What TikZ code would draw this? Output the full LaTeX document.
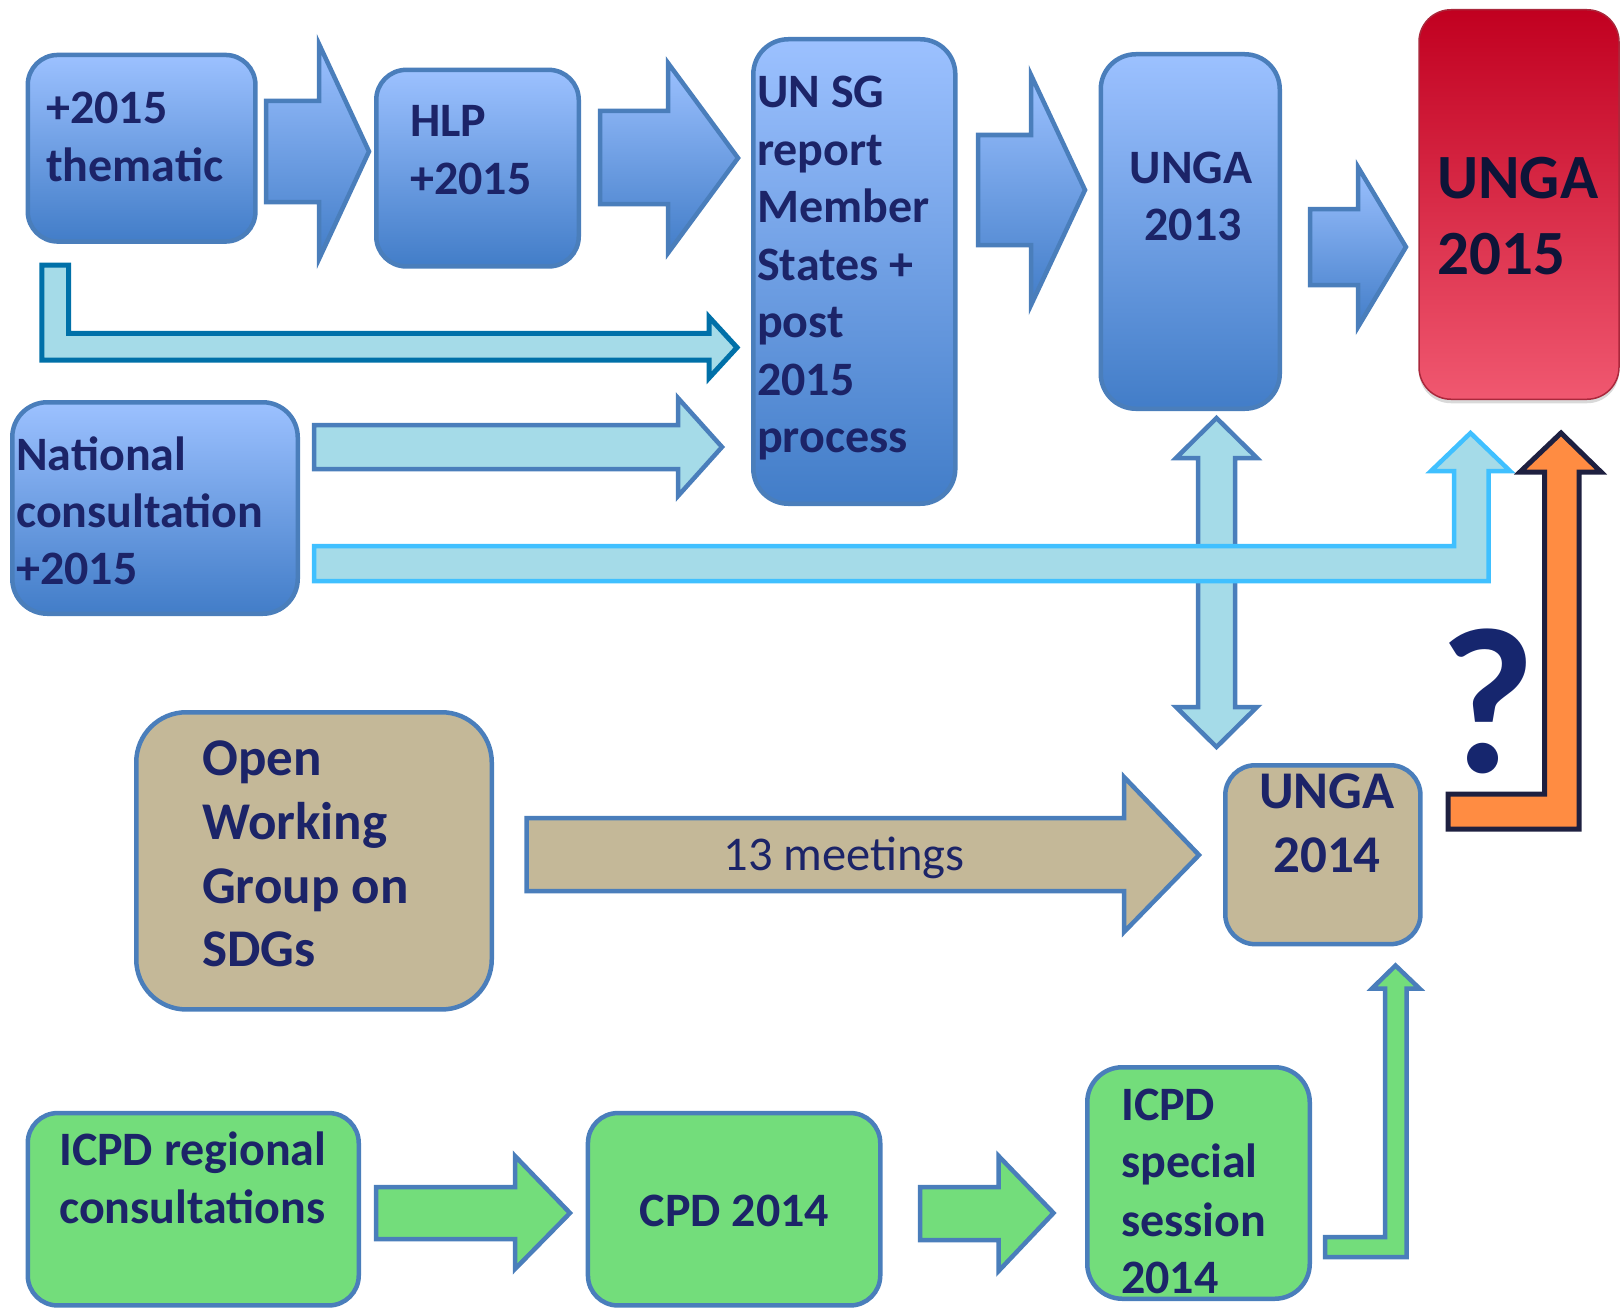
\documentclass[tikz,border=0pt]{standalone}
\usepackage{fontspec}
\setmainfont{Carlito}
\usetikzlibrary{shadows}
\definecolor{bluebd}{RGB}{74,126,187}
\definecolor{boxtop}{RGB}{156,193,255}
\definecolor{boxbot}{RGB}{66,125,200}
\definecolor{cyanfill}{RGB}{165,219,232}
\definecolor{tealbd}{RGB}{0,112,168}
\definecolor{brightbd}{RGB}{64,192,255}
\definecolor{tanfill}{RGB}{196,184,152}
\definecolor{greenfill}{RGB}{115,221,123}
\definecolor{orangefill}{RGB}{255,140,66}
\definecolor{darkbd}{RGB}{30,32,64}
\definecolor{navy}{RGB}{28,36,104}
\definecolor{darknavy}{RGB}{14,20,56}
\definecolor{redtop}{RGB}{193,0,32}
\definecolor{redbot}{RGB}{240,88,112}
\definecolor{redbd}{RGB}{170,40,60}
\begin{document}
\begin{tikzpicture}[x=1pt,y=-1pt,
  box/.style={rectangle, rounded corners=30pt, draw=bluebd, line width=4.5pt, inner sep=0pt},
  bluebox/.style={box, top color=boxtop, bottom color=boxbot},
  tanbox/.style={box, fill=tanfill},
  greenbox/.style={box, fill=greenfill},
  txt/.style={anchor=base west, inner sep=0pt, text=navy, font=\fontsize{48}{57}\selectfont\bfseries},
  ctxt/.style={txt, anchor=base},
  bigtxt/.style={txt, font=\fontsize{53}{63}\selectfont\bfseries},
  blockarrow/.style={draw=bluebd, line width=4.5pt, line join=miter, top color=boxtop, bottom color=boxbot},
  cyanarrow/.style={draw=bluebd, line width=4.5pt, line join=miter, fill=cyanfill},
]
\useasboundingbox (0,0) rectangle (1624,1311);

% ---------- boxes ----------
\node[bluebox, minimum width=227.7pt, minimum height=186.6pt] (thematic) at (141.6,148.25) {};
\node[bluebox, minimum width=202.5pt, minimum height=196.6pt] (hlp) at (477.5,168.15) {};
\node[bluebox, rounded corners=35pt, minimum width=202pt, minimum height=464.5pt] (unsg) at (854.3,271.5) {};
\node[bluebox, rounded corners=35pt, minimum width=179pt, minimum height=354.5pt] (unga13) at (1190.25,231.5) {};
\node[rectangle, rounded corners=32pt, draw=redbd, line width=1.5pt, top color=redtop, bottom color=redbot,
      drop shadow={shadow xshift=0pt, shadow yshift=-4pt, opacity=0.3},
      minimum width=200pt, minimum height=389.5pt] (unga15) at (1519,204.5) {};
\node[bluebox, rounded corners=35pt, minimum width=285.5pt, minimum height=211.5pt] (national) at (155,508) {};
\node[tanbox, rounded corners=50pt, minimum width=355.5pt, minimum height=297.2pt] (owg) at (314,860.85) {};
\node[tanbox, minimum width=195.2pt, minimum height=178.9pt] (unga14) at (1322.85,854.7) {};
\node[greenbox, minimum width=331pt, minimum height=192.4pt] (icpdreg) at (193.25,1209.25) {};
\node[greenbox, minimum width=292.3pt, minimum height=192.4pt] (cpd) at (734.1,1209.25) {};
\node[greenbox, rounded corners=35pt, minimum width=222.5pt, minimum height=231.5pt] (icpdss) at (1198.5,1183) {};

% ---------- block arrows (top row) ----------
\draw[blockarrow] (266,101) -- (319,101) -- (319,44) -- (369,151.5) -- (319,259) -- (319,202) -- (266,202) -- cycle;
\draw[blockarrow] (600,111) -- (668,111) -- (668,63) -- (738,158) -- (668,253) -- (668,204) -- (600,204) -- cycle;
\draw[blockarrow] (978,135) -- (1031,135) -- (1031,75) -- (1085,190) -- (1031,305) -- (1031,245) -- (978,245) -- cycle;
\draw[blockarrow] (1310,209) -- (1358,209) -- (1358,167) -- (1406,247) -- (1358,327) -- (1358,285) -- (1310,285) -- cycle;

% ---------- L arrow thematic -> UN SG ----------
\draw[draw=tealbd, line width=5pt, line join=miter, fill=cyanfill]
  (41.8,265) -- (68.5,265) -- (68.5,333.3) -- (709,333.3) -- (709,317) -- (737,347.5) -- (709,378) -- (709,360) -- (41.8,360) -- cycle;

% ---------- National -> UN SG ----------
\draw[cyanarrow] (314,425) -- (678,425) -- (678,398) -- (722,447) -- (678,496) -- (678,469) -- (314,469) -- cycle;

% ---------- double arrow UNGA 2013 <-> UNGA 2014 ----------
\draw[cyanarrow] (1216.5,418) -- (1257,458) -- (1235,458) -- (1235,707) -- (1257,707) -- (1216.5,747)
  -- (1176,707) -- (1198,707) -- (1198,458) -- (1176,458) -- cycle;

% ---------- long L arrow National -> UNGA 2015 ----------
\draw[draw=brightbd, line width=4.5pt, line join=miter, fill=cyanfill]
  (314,546) -- (1454,546) -- (1454,471) -- (1431,471) -- (1470.5,433) -- (1510,471) -- (1488.5,471) -- (1488.5,581) -- (314,581) -- cycle;

% ---------- orange L arrow UNGA 2014 -> UNGA 2015 ----------
\draw[draw=darkbd, line width=5pt, line join=miter, fill=orangefill]
  (1448,794) -- (1544.5,794) -- (1544.5,472) -- (1520,472) -- (1561,433) -- (1601,472) -- (1579,472) -- (1579,829) -- (1448,829) -- cycle;

% ---------- tan arrow OWG -> UNGA 2014 ----------
\draw[draw=bluebd, line width=4.5pt, line join=miter, fill=tanfill]
  (526.5,818) -- (1124,818) -- (1124,777) -- (1199,855) -- (1124,932) -- (1124,891) -- (526.5,891) -- cycle;

% ---------- green arrows ----------
\draw[draw=bluebd, line width=4.5pt, line join=miter, fill=greenfill]
  (376,1187) -- (515,1187) -- (515,1156) -- (570,1213) -- (515,1269) -- (515,1239) -- (376,1239) -- cycle;
\draw[draw=bluebd, line width=4.5pt, line join=miter, fill=greenfill]
  (920,1187) -- (998.6,1187) -- (998.6,1156) -- (1053.5,1213) -- (998.6,1271) -- (998.6,1240) -- (920,1240) -- cycle;
\draw[draw=bluebd, line width=4.5pt, line join=miter, fill=greenfill]
  (1325,1237) -- (1385,1237) -- (1385,988.5) -- (1372,988.5) -- (1395.5,965.5) -- (1419.5,988.5) -- (1406.5,988.5) -- (1406.5,1257) -- (1325,1257) -- cycle;

% ---------- texts ----------
\node[txt] (th1) at (46,123.5) {+2015};
\node[txt] (th2) at (46,181) {thematic};

\node[txt] (hlp1) at (410,136.8) {HLP};
\node[txt] (hlp2) at (410,194) {+2015};

\foreach \t [count=\i from 0] in {UN SG, report, Member, States +, post, 2015, process}
  \node[txt] (sg\i) at (757,{108+57.4*\i}) {\t};

\node[ctxt] (u13a) at (1191,183) {UNGA};
\node[ctxt] (u13b) at (1193,240.5) {2013};

\node[txt, text=darknavy, font=\fontsize{63}{75}\selectfont\bfseries] (u15a) at (1437,198) {UNGA};
\node[txt, text=darknavy, font=\fontsize{63}{75}\selectfont\bfseries] (u15b) at (1437,274.5) {2015};

\node[txt] (nat1) at (16,470.6) {National};
\node[txt] (nat2) at (16,527.4) {consultation};
\node[txt] (nat3) at (16,584.6) {+2015};

\node[bigtxt] (owg1) at (202,775.6) {Open};
\node[bigtxt] (owg2) at (202,839) {Working};
\node[bigtxt] (owg3) at (202,903) {Group on};
\node[bigtxt] (owg4) at (202,966) {SDGs};

\node[bigtxt, anchor=base] (u14a) at (1327,808) {UNGA};
\node[bigtxt, anchor=base] (u14b) at (1327,872.6) {2014};

\node[anchor=base, inner sep=0pt, text=navy, font=\fontsize{48.5}{58}\selectfont] (meet) at (844,870) {13 meetings};

\node[txt] (reg1) at (59,1165) {ICPD regional};
\node[txt] (reg2) at (59,1223.4) {consultations};

\node[ctxt] (cpdt) at (734.5,1226) {CPD 2014};

\node[txt] (ss1) at (1121,1120) {ICPD};
\node[txt] (ss2) at (1121,1177.8) {special};
\node[txt] (ss3) at (1121,1236) {session};
\node[txt] (ss4) at (1121,1293) {2014};

\node[anchor=base, inner sep=0pt, text={rgb,255:red,22;green,38;blue,110}, font=\fontsize{208}{230}\selectfont\bfseries] (qm) at (1488,772) {?};
\end{tikzpicture}
\end{document}
